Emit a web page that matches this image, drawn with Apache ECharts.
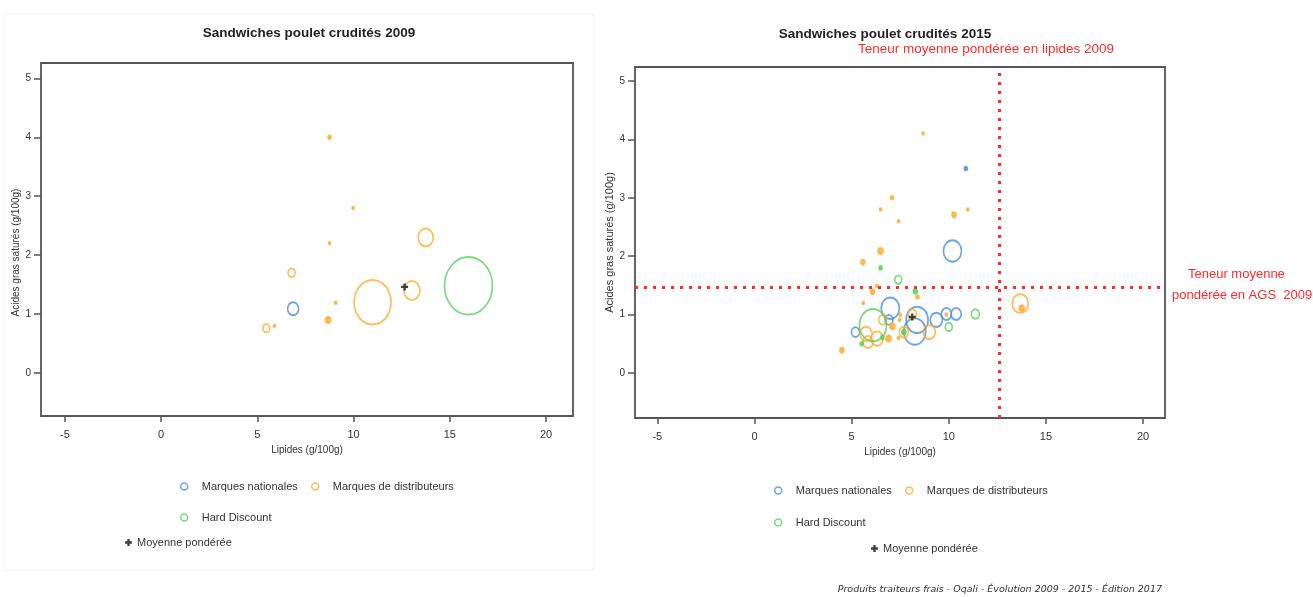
<!DOCTYPE html>
<html><head><meta charset="utf-8">
<script src="https://cdn.jsdelivr.net/npm/echarts@6/dist/echarts.min.js"></script>
<style>html,body{margin:0;padding:0;background:#fff}#c{width:1313px;height:597px}</style>
</head><body><div id="c"></div>
<script>
// ---------- DATA ----------
const xTickValues = [-5, 0, 5, 10, 15, 20];
const yTickValues = [0, 1, 2, 3, 4, 5];
// [lipides, AGS, relative bubble size]
const nationales2009 = [[6.86, 1.09, 11]];
const distributeurs2009 = [
  [8.75, 4.0, 3], [9.98, 2.8, 2], [8.75, 2.2, 2], [13.75, 2.3, 15], [6.78, 1.7, 7],
  [9.07, 1.19, 2], [10.99, 1.2, 37], [13.03, 1.4, 16], [8.68, 0.9, 5], [5.47, 0.76, 7], [5.89, 0.8, 2]
];
const hardDiscount2009 = [[15.97, 1.48, 48]];
const moyenne2009 = [[12.65, 1.46]];

const nationales2015 = [
  [10.88, 3.5, 3], [10.19, 2.09, 18], [6.99, 1.11, 18], [8.37, 0.91, 22], [8.25, 0.71, 22],
  [9.36, 0.91, 12], [9.88, 1.01, 10], [10.38, 1.01, 10], [6.92, 0.91, 8], [5.2, 0.7, 8]
];
const distributeurs2015 = [
  [8.68, 4.1, 2], [7.08, 3.0, 3], [6.49, 2.8, 2], [7.41, 2.6, 2], [10.27, 2.71, 4], [10.98, 2.8, 2],
  [6.49, 2.09, 5], [5.58, 1.9, 4], [6.3, 1.49, 2], [6.08, 1.39, 4], [8.39, 1.3, 3], [5.6, 1.2, 2],
  [13.68, 1.19, 16], [13.75, 1.11, 5], [8.13, 1.01, 8], [9.88, 1.0, 2], [9.0, 0.7, 12], [6.6, 0.91, 8],
  [7.1, 0.8, 5], [7.47, 0.91, 2], [7.5, 1.0, 2], [5.74, 0.67, 12], [5.84, 0.53, 10], [6.31, 0.59, 12],
  [6.9, 0.59, 5], [7.41, 0.6, 2], [7.69, 0.7, 9], [4.5, 0.39, 4]
];
const hardDiscount2015 = [
  [6.49, 1.8, 3], [7.4, 1.6, 7], [8.28, 1.4, 4], [6.1, 0.82, 27], [11.37, 1.01, 8],
  [10.0, 0.79, 7], [5.52, 0.5, 3], [6.58, 0.61, 3], [7.69, 0.7, 4]
];
const moyenne2015 = [[8.12, 0.96]];
const refLipides2009 = 12.6;
const refAGS2009 = 1.47;

// ---------- STYLE ----------
const BLUE = '#4a8fdc', ORANGE = '#ffac33', GREEN = '#5cd05c', RED = '#ff2b2b';
const FONT = 'Liberation Sans';
const PLUS = 'path://M-1,-3L1,-3L1,-1L3,-1L3,1L1,1L1,3L-1,3L-1,1L-3,1L-3,-1L-1,-1Z';

function bubbles(name, arr, color, gi) {
  return {
    type: 'scatter', name, xAxisIndex: gi, yAxisIndex: gi,
    symbol: 'circle',
    symbolSize: v => [v[2], v[2] * 1.2],
    itemStyle: { color: 'transparent', borderColor: color, borderWidth: 1.8 },
    data: arr.map(p => ({ value: p, itemStyle: p[2] <= 5 ? { color: color } : {} })),
    silent: true
  };
}
function mean(arr, gi) {
  return {
    type: 'scatter', name: 'Moyenne pondérée', xAxisIndex: gi, yAxisIndex: gi,
    symbol: PLUS, symbolSize: 7, z: 5,
    itemStyle: { color: '#111' }, data: arr, silent: true
  };
}
function xAxis(gi, min, max, gap) {
  return {
    type: 'value', gridIndex: gi, min, max,
    name: 'Lipides (g/100g)', nameLocation: 'middle', nameGap: gap,
    nameTextStyle: { fontFamily: FONT, fontSize: 10, color: '#333' },
    axisLine: { show: false, onZero: false },
    axisTick: { show: true, length: 6, customValues: xTickValues, lineStyle: { color: '#555', width: 1.5 } },
    axisLabel: { customValues: xTickValues, fontFamily: FONT, fontSize: 11, color: '#333', margin: 13 },
    splitLine: { show: false }
  };
}
function yAxis(gi, min, max, gap, fs, pad) {
  return {
    type: 'value', gridIndex: gi, min, max,
    name: 'Acides gras saturés (g/100g)', nameLocation: 'middle', nameGap: gap, nameRotate: 90,
    nameTextStyle: { fontFamily: FONT, fontSize: fs, color: '#333', padding: pad },
    axisLine: { show: false, onZero: false },
    axisTick: { show: true, length: 7, customValues: yTickValues, lineStyle: { color: '#555', width: 1.5 } },
    axisLabel: { customValues: yTickValues, fontFamily: FONT, fontSize: 10, color: '#333', margin: 10 },
    splitLine: { show: false }
  };
}
function legendItem(name, color, left, top, isMean) {
  return {
    left, top, padding: 0, itemWidth: 7, itemHeight: 7, itemGap: 0, selectedMode: false,
    textStyle: { fontFamily: FONT, fontSize: 11, color: '#333', padding: [0, 0, 0, isMean ? 0 : 9] },
    data: [isMean
      ? { name, icon: PLUS, itemStyle: { color: '#111' } }
      : { name, icon: 'circle', itemStyle: { color: 'transparent', borderColor: color, borderWidth: 1.5 } }]
  };
}

const chart = echarts.init(document.getElementById('c'), null, { renderer: 'canvas' });
chart.setOption({
  backgroundColor: '#fff',
  animation: false,
  title: [
    { text: 'Sandwiches poulet crudités 2009', left: 304, top: 21, textAlign: 'center',
      textStyle: { fontFamily: FONT, fontSize: 13.5, fontWeight: 'bold', color: '#222' } },
    { text: 'Sandwiches poulet crudités 2015', left: 880, top: 22, textAlign: 'center',
      textStyle: { fontFamily: FONT, fontSize: 13.5, fontWeight: 'bold', color: '#222' } }
  ],
  grid: [
    { left: 41, right: 740, top: 63, bottom: 181, show: true, borderColor: '#555', borderWidth: 1.8, backgroundColor: '#fff' },
    { left: 635, right: 148, top: 67, bottom: 179, show: true, borderColor: '#555', borderWidth: 1.8, backgroundColor: '#fff' }
  ],
  xAxis: [xAxis(0, -6.24, 21.4, 26), xAxis(1, -6.15, 21.13, 27)],
  yAxis: [yAxis(0, -0.73, 5.26, 17, 10, [0, 26, 0, 0]), yAxis(1, -0.77, 5.24, 18, 11, 0)],
  legend: [
    legendItem('Marques nationales', BLUE, 180, 481),
    legendItem('Marques de distributeurs', ORANGE, 311, 481),
    legendItem('Hard Discount', GREEN, 180, 512),
    legendItem('Moyenne pondérée', '#111', 125, 537, true),
    legendItem('Marques nationales', BLUE, 774, 485),
    legendItem('Marques de distributeurs', ORANGE, 905, 485),
    legendItem('Hard Discount', GREEN, 774, 517),
    legendItem('Moyenne pondérée', '#111', 871, 543, true)
  ],
  graphic: [
    { type: 'rect', shape: { x: 4, y: 14, width: 590, height: 556 }, style: { fill: 'none', stroke: '#f0f0f0', lineWidth: 1 }, z: -10 },
    { type: 'text', left: 858, top: 42, style: { text: 'Teneur moyenne pondérée en lipides 2009', fill: RED, font: '13.5px "Liberation Sans"' } },
    { type: 'text', left: 1188, top: 268, style: { text: 'Teneur moyenne', fill: RED, font: '13px "Liberation Sans"' } },
    { type: 'text', left: 1172, top: 289, style: { text: 'pondérée en AGS  2009', fill: RED, font: '13px "Liberation Sans"' } },
    { type: 'text', right: 151, top: 585, style: { text: 'Produits traiteurs frais - Oqali - Évolution 2009 - 2015 - Édition 2017', fill: '#333', font: 'italic 9.5px "DejaVu Sans"' } }
  ],
  series: [
    bubbles('Marques nationales', nationales2009, BLUE, 0),
    bubbles('Marques de distributeurs', distributeurs2009, ORANGE, 0),
    bubbles('Hard Discount', hardDiscount2009, GREEN, 0),
    mean(moyenne2009, 0),
    bubbles('Marques nationales', nationales2015, BLUE, 1),
    bubbles('Marques de distributeurs', distributeurs2015, ORANGE, 1),
    bubbles('Hard Discount', hardDiscount2015, GREEN, 1),
    Object.assign(mean(moyenne2015, 1), {
      markLine: {
        silent: true, symbol: 'none', label: { show: false },
        lineStyle: { color: RED, width: 3, type: [3, 6] },
        data: [{ xAxis: refLipides2009 }, { yAxis: refAGS2009 }]
      }
    })
  ]
});
</script></body></html>
